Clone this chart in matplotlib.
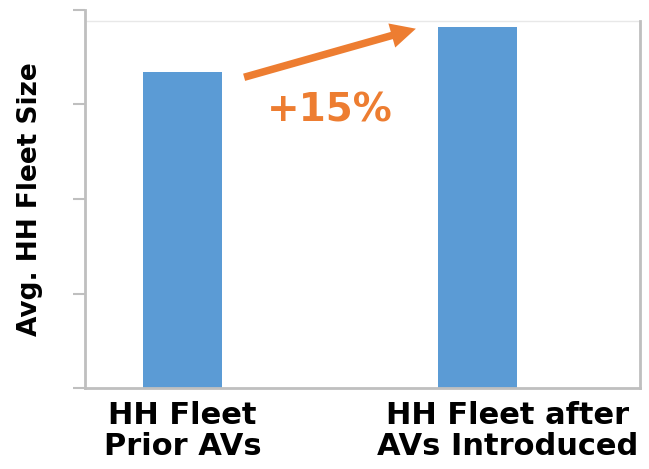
import matplotlib.pyplot as plt
import matplotlib.transforms as mtransforms

# Average household fleet size before / after AVs
categories = ["HH Fleet\nPrior AVs", "HH Fleet after\nAVs Introduced"]
fleet_size = [3.34, 3.82]
change_label = "+15%"

blue = "#5B9BD5"
orange = "#ED7D31"
grey = "#BFBFBF"

fig = plt.figure(figsize=(6.49, 4.69), dpi=100)
ax = fig.add_axes([0.131, 0.1727, 0.855, 0.806])

x = range(len(categories))
ax.bar(x, fleet_size, width=0.265, color=blue, zorder=2)

ax.set_xlim(-0.33, 1.55)
ax.set_ylim(0, 4)
ax.set_yticks([0, 1, 2, 3, 4])
ax.set_yticklabels([])
ax.tick_params(axis="y", length=9, width=1.5, color=grey, direction="out")
ax.set_xticks(list(x))
ax.set_xticklabels(categories, fontsize=22, fontweight="bold", linespacing=1.1)
ax.tick_params(axis="x", length=0, pad=9)

# second label sits a bit right of its bar
off = mtransforms.ScaledTranslation(30 / 100, 0, fig.dpi_scale_trans)
lbl = ax.get_xticklabels()[1]
lbl.set_transform(lbl.get_transform() + off)

# plot frame: light top edge, grey right/bottom, left axis taller
frame_top = 3.88
ax.spines["top"].set_visible(False)
ax.spines["left"].set_color(grey)
ax.spines["left"].set_linewidth(2)
ax.spines["bottom"].set_color(grey)
ax.spines["bottom"].set_linewidth(2)
ax.spines["right"].set_color(grey)
ax.spines["right"].set_linewidth(2)
ax.spines["right"].set_bounds(0, frame_top)
ax.axhline(frame_top, color="#E8E8E8", lw=1, zorder=1)

ax.set_ylabel("Avg. HH Fleet Size", fontsize=19, fontweight="bold", labelpad=18)

ax.annotate("", xy=(0.80, 3.81), xytext=(0.20, 3.28),
            arrowprops=dict(arrowstyle="simple,head_length=1.0,head_width=1.0,tail_width=0.3",
                            mutation_scale=18, color=orange, lw=0))
ax.text(0.5, 2.94, change_label, color=orange, fontsize=28, fontweight="bold",
        ha="center", va="center")

fig.savefig("out.png", dpi=100)
